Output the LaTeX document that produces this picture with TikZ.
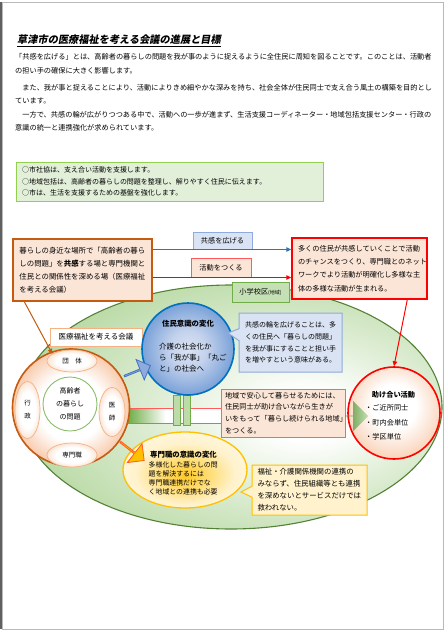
\documentclass[tikz,border=0pt]{standalone}
\usepackage{fontspec}
\usetikzlibrary{shapes.geometric,shapes.arrows,shapes.callouts,calc,arrows.meta}
\newfontfamily\jp{Noto Sans CJK JP}
\newfontfamily\jpsl{Noto Sans CJK JP}[FakeSlant=0.18]
\newcommand\jfs[2]{\jp\fontsize{#1}{#2}\selectfont}
\XeTeXinterchartoks 1 1 = {\hskip0pt plus 1pt minus 0.6pt}
\XeTeXinterchartoks 1 2 = {\hskip0pt plus 1pt minus 0.6pt}
\XeTeXinterchartoks 1 3 = {\hskip0pt plus 1pt minus 0.6pt}
\XeTeXinterchartoks 2 1 = {\hskip0pt plus 1pt minus 0.6pt}
\XeTeXinterchartoks 3 1 = {\hskip0pt plus 1pt minus 0.6pt}
\XeTeXinterchartoks 3 2 = {\hskip0pt plus 1pt minus 0.6pt}
\XeTeXinterchartoks 2 2 = {\hskip0pt plus 1pt minus 0.6pt}
\XeTeXinterchartoks 3 3 = {\hskip0pt plus 1pt minus 0.6pt}
\XeTeXinterchartoks 2 3 = {\hskip0pt plus 1pt minus 0.6pt}
\XeTeXinterchartoks 0 1 = {\hskip0pt plus 1pt minus 0.6pt}
\XeTeXinterchartoks 1 0 = {\hskip0pt plus 1pt minus 0.6pt}
\XeTeXinterchartoks 0 2 = {\hskip0pt plus 1pt minus 0.6pt}
\XeTeXinterchartoks 3 0 = {\hskip0pt plus 1pt minus 0.6pt}
\newcommand\jline[2]{{\XeTeXinterchartokenstate=1 \makebox[#1][s]{#2}}}
\definecolor{oBorder}{HTML}{C55A11}
\definecolor{peach}{HTML}{FBE5D6}
\definecolor{lineBlue}{HTML}{2E75B6}
\definecolor{paleBlue}{HTML}{DAE3F3}
\definecolor{midBlue}{HTML}{8FAADC}
\definecolor{deepBlue}{HTML}{0070C0}
\definecolor{blueEdge}{HTML}{4472C4}
\definecolor{red1}{HTML}{FF0000}
\definecolor{redSoft}{HTML}{FF5B5B}
\definecolor{ellLine}{HTML}{548235}
\definecolor{lgreen}{HTML}{C5E0B4}
\definecolor{mgreen}{HTML}{A9D18E}
\definecolor{green2}{HTML}{70AD47}
\definecolor{lorange}{HTML}{F8CBAD}
\definecolor{morange}{HTML}{F4B183}
\definecolor{gold}{HTML}{FFC000}
\definecolor{pyellow}{HTML}{FFF2CC}
\definecolor{noteGreen}{HTML}{E2EFD9}
\definecolor{noteBorder}{HTML}{92D050}
\definecolor{grayb}{HTML}{9A8F8A}
\definecolor{arrowRed}{HTML}{FF5A1F}
\pgfdeclareradialshading{ellsh}{\pgfpoint{10bp}{-2bp}}{color(0bp)=(white); color(5bp)=(white); color(16bp)=(lgreen!55); color(26bp)=(lgreen); color(36bp)=(mgreen); color(60bp)=(mgreen)}
\pgfdeclareradialshading{orsh}{\pgfpoint{0bp}{0bp}}{color(0bp)=(white); color(14bp)=(white); color(25bp)=(lorange); color(50bp)=(lorange)}
\pgfdeclareradialshading{subsh}{\pgfpoint{0bp}{0bp}}{color(0bp)=(white); color(16bp)=(white); color(25bp)=(peach); color(50bp)=(peach)}
\pgfdeclareradialshading{tasukesh}{\pgfpoint{0bp}{5bp}}{color(0bp)=(white); color(12bp)=(white); color(30bp)=(lorange); color(50bp)=(lorange)}
\pgfdeclareradialshading{yelsh}{\pgfpoint{0bp}{-4bp}}{color(0bp)=(gold!85); color(8bp)=(gold!60); color(20bp)=(pyellow); color(29bp)=(pyellow!60); color(50bp)=(pyellow!60)}
\pgfdeclareradialshading{bluesh}{\pgfpoint{0bp}{0bp}}{color(0bp)=(paleBlue); color(10bp)=(paleBlue!70!midBlue); color(25bp)=(midBlue!85!deepBlue); color(50bp)=(midBlue!85!deepBlue)}
\pgfdeclarehorizontalshading{bandsh}{100bp}{color(0bp)=(green2); color(31bp)=(green2); color(48bp)=(white); color(100bp)=(white)}
\begin{document}
\begin{tikzpicture}[x=1pt,y=-1pt,
  ptext/.style={anchor=west, inner sep=0, font=\jfs{7.2}{9}},
  sube/.style={ellipse, draw=morange, line width=0.7, inner sep=0, shade, shading=subsh, font=\jfs{6.5}{13}, align=center},
  tip/.style={-{Triangle[length=5pt,width=4.5pt]}}]
\useasboundingbox (0,0) rectangle (446,631);
\fill[white] (0,0) rectangle (446,631);
\draw[gray!55, line width=0.8] (2,2) rectangle (443,629);
\draw[gray!75!black, line width=1.6] (1.2,2) -- (1.2,629);

% title and text
\node[anchor=west, inner xsep=0, inner ysep=1.2pt, font=\jpsl\bfseries\fontsize{10.2}{12}\selectfont] (title) at (17,40) {草津市の医療福祉を考える会議の進展と目標};
\draw[line width=0.7] (title.south west) -- (title.south east);
\node[ptext] (p1) at (15,57) {\jline{417pt}{「共感を広げる」とは、高齢者の暮らしの問題を我が事のように捉えるように全住民に周知を図ることです。このことは、活動者}};
\node[ptext] (p2) at (15,71) {の担い手の確保に大きく影響します。};
\node[ptext] (p3) at (15,88) {\jline{417pt}{　また、我が事と捉えることにより、活動によりきめ細やかな深みを持ち、社会全体が住民同士で支え合う風土の構築を目的とし}};
\node[ptext] (p4) at (15,101) {ています。};
\node[ptext] (p5) at (15,115) {\jline{417pt}{　一方で、共感の輪が広がりつつある中で、活動への一歩が進まず、生活支援コーディネーター・地域包括支援センター・行政の}};
\node[ptext] (p6) at (15,128) {意識の統一と連携強化が求められています。};

\node[rectangle, draw=noteBorder, fill=noteGreen, line width=0.9, minimum width=307, minimum height=39, inner xsep=6, inner ysep=0, text width=295, align=left, font=\jfs{7}{11.2}] (note) at (169.5,181.5) {○市社協は、支え合い活動を支援します。\\○地域包括は、高齢者の暮らしの問題を整理し、解りやすく住民に伝えます。\\○市は、生活を支援するための基盤を強化します。};

% region
\node[ellipse, draw=ellLine, line width=1.1, minimum width=422, minimum height=244, inner sep=0, shade, shading=ellsh] (region) at (231,407) {};
\node[rectangle, draw=green2, fill=lgreen, line width=0.9, minimum width=57, minimum height=20, inner sep=0, font=\jfs{7.2}{8}] (school) at (260.5,292) {小学校区{\fontsize{5}{6}\selectfont (地域)}};

% top boxes
\node[rectangle, draw=oBorder, fill=peach, line width=1.5, minimum width=139, minimum height=62, inner xsep=6.5, inner ysep=0, text width=126, align=left, font=\jfs{7.4}{13}] (obox) at (82.5,270) {暮らしの身近な場所で「高齢者の暮ら\\しの問題」を{\bfseries 共感}する場と専門機関と\\住民との関係性を深める場（医療福祉\\を考える会議）};
\node[rectangle, draw=midBlue, fill=paleBlue, line width=1, minimum width=59, minimum height=17, inner sep=0, font=\jfs{7.2}{8}] (kbox) at (222.5,240.5) {共感を広げる};
\node[rectangle, draw=redSoft, fill=peach, line width=1, minimum width=60, minimum height=19, inner sep=0, font=\jfs{7.2}{8}] (abox) at (221,267.5) {活動をつくる};
\node[rectangle, draw=red1, fill=peach, line width=1.5, minimum width=135, minimum height=61, inner xsep=6, inner ysep=0, text width=123, align=left, font=\jfs{7.2}{13.3}] (pink) at (359.5,268.5) {\jline{123pt}{多くの住民が共感していくことで活動}\\\jline{123pt}{のチャンスをつくり、専門職とのネット}\\\jline{123pt}{ワークでより活動が明確化し多様な主}\\体の多様な活動が生まれる。};
\draw[lineBlue, line width=1.5, tip] (obox.east |- kbox.south) -- (pink.west |- kbox.south);
\draw[red1, line width=1.5, tip] (obox.east |- abox.south) -- (pink.west |- abox.south);

% band between council and community box
\node[rectangle, draw=redSoft, line width=0.8, minimum width=110, minimum height=15, inner sep=0, shade, shading=bandsh] (band) at (170,415.5) {};
\node[rectangle, draw=green2, fill=lgreen!70!mgreen, line width=0.6, minimum width=7, minimum height=30, inner sep=0] (bar1) at (176.5,410) {};
\node[rectangle, draw=green2, fill=lgreen!70!mgreen, line width=0.6, minimum width=7, minimum height=30, inner sep=0] (bar2) at (186.5,410) {};

% council circle
\node[circle, draw=oBorder, line width=1.6, minimum size=117, inner sep=0, shade, shading=orsh] (council) at (71,407.5) {};
\node[sube, minimum width=50, minimum height=22] (dantai) at (72,361) {団　体};
\node[sube, minimum width=25, minimum height=57] (gyosei) at (27.5,410) {行\\政};
\node[sube, minimum width=26, minimum height=49] (ishi) at (112,412) {医\\師};
\node[sube, minimum width=50, minimum height=24] (senmon) at (72,455) {専門職};
\node[circle, draw=green2!80, line width=0.9, fill=white, minimum size=54, inner sep=0, align=center, font=\jfs{7}{13.3}] (core) at (70,404) {高齢者\\の暮らし\\の問題};
\node[rectangle, draw=morange, fill=white, line width=0.8, minimum width=92, minimum height=18, inner sep=0, font=\jfs{7.5}{8}] (kaigi) at (96,337) {医療福祉を考える会議};
\draw[oBorder, line width=1, tip] ($(obox.south west)!0.086!(obox.south east)$) -- (dantai.160);

% residents circle
\node[circle, draw=deepBlue, line width=1.6, minimum size=92, inner sep=0, shade, shading=bluesh] (jumin) at (188,349) {};
\node[font=\jp\bfseries\fontsize{7.4}{9}\selectfont, inner sep=0] (jtitle) at (188,324) {住民意識の変化};
\node[anchor=west, inner sep=0, align=left, font=\jfs{7.5}{11}] (jtext) at (159,358) {介護の社会化か\\ら「我が事」「丸ご\\と」の社会へ};
\node[rectangle callout, callout absolute pointer={(228,333)}, callout pointer width=12pt, draw=midBlue, fill=paleBlue, line width=1, minimum width=103, minimum height=59, inner xsep=6, inner ysep=0, text width=91, align=left, font=\jfs{7}{11.7}] (bcall) at (290.5,342.5) {共感の輪を広げることは、多\\くの住民へ「暮らしの問題」\\を我が事にすることと担い手\\を増やすという意味がある。};
\node[single arrow, draw=blueEdge, fill=midBlue, line width=0.8, minimum height=28, minimum width=22, single arrow head extend=5, inner sep=0, rotate=22] (barrow) at (137,371) {};

% community box and mutual-aid circle
\node[rectangle, draw=grayb, fill=peach, line width=0.9, minimum width=124, minimum height=48, inner xsep=4, inner ysep=0, text width=116, align=left, font=\jfs{7.2}{11.7}] (chiiki) at (283,413) {\jline{116pt}{地域で安心して暮らせるためには、}\\\jline{116pt}{住民同士が助け合いながら生きが}\\\jline{116pt}{いをもって「暮らし続けられる地域」}\\をつくる。};
\node[circle, draw=red1, line width=1.6, minimum size=92, inner sep=0, shade, shading=tasukesh] (tasuke) at (394,413) {};
\node[font=\jp\bfseries\fontsize{7.2}{8}\selectfont, inner sep=0] (ttitle) at (393.5,395) {助け合い活動};
\node[anchor=west, inner sep=0, align=left, font=\jfs{7.2}{14.5}] (tlist) at (365,422.5) {・ご近所同士\\・町内会単位\\・学区単位};
\node[single arrow, draw=none, left color=green2!85!black, right color=lgreen, minimum height=23, minimum width=30, single arrow head extend=6, inner sep=0] (garrow) at (356.5,416) {};
\draw[red1, line width=1, tip] ($(pink.south west)!0.85!(pink.south east)$) -- (tasuke.north);

% professionals ellipse
\node[ellipse, draw=gold, line width=1.3, minimum width=124, minimum height=76, inner sep=0, shade, shading=yelsh] (senmonE) at (185,470) {};
\node[font=\jp\bfseries\fontsize{7.4}{8}\selectfont, inner sep=0] (stitle) at (183.5,455) {専門職の意識の変化};
\node[anchor=west, inner sep=0, align=left, font=\jfs{6.9}{9.1}] (stext) at (148.5,478.5) {多様化した暮らしの問\\題を解決するには\\専門職連携だけでな\\く地域との連携も必要};
\node[single arrow, draw=arrowRed, fill=gold, line width=0.8, minimum height=30, minimum width=24, single arrow head extend=5.5, inner sep=0, rotate=-38] (yarrow) at (132,451) {};
\node[rectangle callout, callout absolute pointer={(241,492)}, callout pointer width=11pt, draw=gold, fill=pyellow, line width=1, minimum width=115, minimum height=50, inner xsep=5.5, inner ysep=0, text width=104, align=left, font=\jfs{7.4}{12}] (ycall) at (309.5,490) {\jline{104pt}{福祉・介護関係機関の連携の}\\\jline{104pt}{みならず、住民組織等とも連携}\\\jline{104pt}{を深めないとサービスだけでは}\\救われない。};
\end{tikzpicture}
\end{document}
